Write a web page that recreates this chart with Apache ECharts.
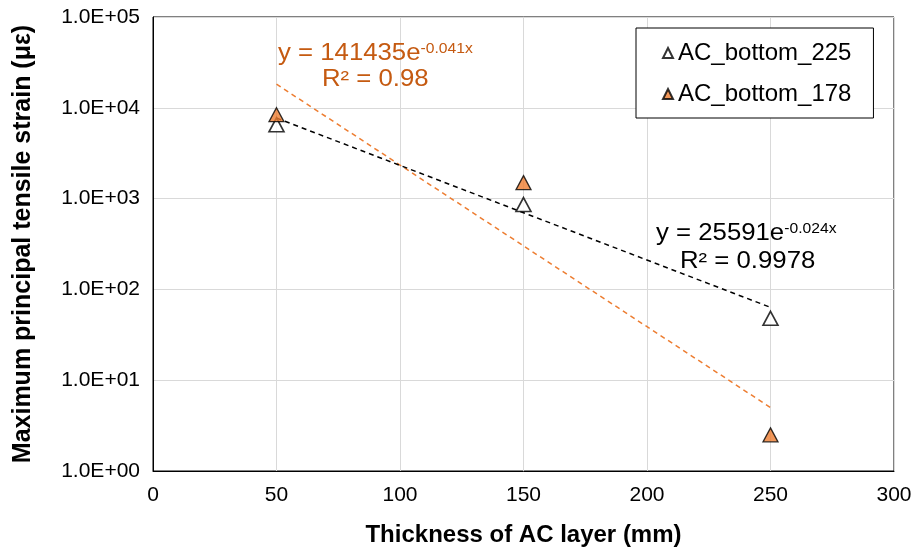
<!DOCTYPE html>
<html>
<head>
<meta charset="utf-8">
<script src="https://cdn.jsdelivr.net/npm/echarts@6/dist/echarts.min.js"></script>
<style>html,body{margin:0;padding:0;background:#fff}#c{width:917px;height:552px}</style>
</head>
<body>
<div id="c"></div>
<script>
// ---- data ----
var thickness = [50, 150, 250];
var strain225 = [6500, 860, 48];
var strain178 = [8400, 1500, 2.5];
var trendX = [50, 250];
var trend225 = [7710, 63.4];
var trend178 = [18200, 5.0];
var xTicks = [0, 50, 100, 150, 200, 250, 300];
var yTickLabels = ['1.0E+00', '1.0E+01', '1.0E+02', '1.0E+03', '1.0E+04', '1.0E+05'];
var seriesNames = ['AC_bottom_225', 'AC_bottom_178'];
var eq225 = ['y = 25591e', '-0.024x', 'R² = 0.9978'];
var eq178 = ['y = 141435e', '-0.041x', 'R² = 0.98'];

var FONT = '"Liberation Sans", Arial, sans-serif';
var ORANGE = '#ED7D31';
var ORANGE_TXT = '#C55A11';

function pairs(xs, ys) { return xs.map(function (x, i) { return [x, ys[i]]; }); }

var chart = echarts.init(document.getElementById('c'), null, { renderer: 'canvas' });
var sx = 1.12;
chart.setOption({
  backgroundColor: '#fff',
  animation: false,
  textStyle: { fontFamily: FONT },
  grid: { left: 153, right: 23, top: 17, bottom: 79, show: true, borderColor: '#000', borderWidth: 1, backgroundColor: 'transparent' },
  legend: {
    data: seriesNames,
    orient: 'vertical',
    left: 636, top: 28,
    backgroundColor: '#fff',
    borderColor: '#000', borderWidth: 1,
    borderRadius: 0,
    padding: [13, 22, 12, 26],
    itemGap: 17,
    itemWidth: 10, itemHeight: 10,
    icon: 'triangle',
    textStyle: { fontSize: 24, color: '#000', fontFamily: FONT, lineHeight: 24 }
  },
  xAxis: {
    type: 'value', min: xTicks[0], max: xTicks[xTicks.length - 1], interval: 50,
    name: 'Thickness of AC layer (mm)', nameLocation: 'middle', nameGap: 52,
    nameTextStyle: { fontSize: 24, fontWeight: 'bold', color: '#000', fontFamily: FONT },
    axisLine: { show: true, lineStyle: { color: '#000', width: 1 } },
    axisTick: { show: false },
    axisLabel: { fontSize: 21, color: '#000', margin: 14, fontFamily: FONT },
    splitLine: { show: true, lineStyle: { color: '#d9d9d9', width: 1 } }
  },
  yAxis: {
    type: 'log', logBase: 10, min: 1, max: 100000,
    name: 'Maximum principal tensile strain (με)', nameLocation: 'middle', nameGap: 117,
    nameTextStyle: { fontSize: 25, fontWeight: 'bold', color: '#000', fontFamily: FONT },
    axisLine: { show: true, lineStyle: { color: '#000', width: 1 } },
    axisTick: { show: false },
    axisLabel: {
      fontSize: 21, color: '#000', margin: 13, fontFamily: FONT,
      formatter: function (v) { var i = Math.round(Math.log10(v)); return yTickLabels[i] || ''; }
    },
    splitLine: { show: true, lineStyle: { color: '#d9d9d9', width: 1 } },
    minorSplitLine: { show: false }
  },
  series: [
    {
      name: seriesNames[1] + ' trend', type: 'line', data: pairs(trendX, trend178),
      symbol: 'none', silent: true, z: 1,
      lineStyle: { color: ORANGE, width: 1.5, type: [5, 4] }
    },
    {
      name: seriesNames[0] + ' trend', type: 'line', data: pairs(trendX, trend225),
      symbol: 'none', silent: true, z: 1,
      lineStyle: { color: '#000', width: 1.5, type: [5, 4] }
    },
    {
      name: seriesNames[0], type: 'scatter', data: pairs(thickness, strain225),
      symbol: 'triangle', symbolSize: [15, 14], z: 3,
      itemStyle: { color: '#fff', borderColor: '#000', borderWidth: 1.6 }
    },
    {
      name: seriesNames[1], type: 'scatter', data: pairs(thickness, strain178),
      symbol: 'triangle', symbolSize: [15, 14], z: 3,
      itemStyle: { color: ORANGE, borderColor: '#000', borderWidth: 1.3 }
    }
  ],
  graphic: [
    {
      type: 'text', left: 278, top: 42, scaleX: sx, originX: 0, z: 10,
      style: {
        text: '{a|' + eq178[0] + '}{s|' + eq178[1] + '}',
        rich: {
          a: { fontSize: 23, fill: ORANGE_TXT, fontFamily: FONT, verticalAlign: 'bottom' },
          s: { fontSize: 14, fill: ORANGE_TXT, fontFamily: FONT, verticalAlign: 'top' }
        }
      }
    },
    {
      type: 'text', left: 322, top: 68, scaleX: sx, originX: 0, z: 10,
      style: { text: eq178[2], fontSize: 23, fill: ORANGE_TXT, fontFamily: FONT }
    },
    {
      type: 'text', left: 656, top: 222, scaleX: sx, originX: 0, z: 10,
      style: {
        text: '{a|' + eq225[0] + '}{s|' + eq225[1] + '}',
        rich: {
          a: { fontSize: 23, fill: '#000', fontFamily: FONT, verticalAlign: 'bottom' },
          s: { fontSize: 14, fill: '#000', fontFamily: FONT, verticalAlign: 'top' }
        }
      }
    },
    {
      type: 'text', left: 680, top: 250, scaleX: sx, originX: 0, z: 10,
      style: { text: eq225[2], fontSize: 23, fill: '#000', fontFamily: FONT }
    }
  ]
});
</script>
</body>
</html>
